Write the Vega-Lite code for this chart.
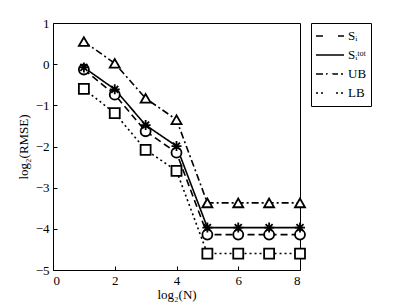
{
  "$schema": "https://vega.github.io/schema/vega-lite/v6.json",
  "width": 247,
  "height": 247,
  "autosize": "none",
  "padding": {"left": 53, "top": 23, "right": 109, "bottom": 37},
  "background": "white",
  "config": {
    "font": "Liberation Serif",
    "view": {"stroke": "black", "strokeWidth": 1},
    "axis": {
      "domain": false,
      "grid": false,
      "tickColor": "black",
      "tickSize": -4,
      "labelColor": "black",
      "labelFont": "Liberation Serif",
      "labelFontSize": 13,
      "titleFont": "Liberation Serif",
      "titleFontSize": 13,
      "titleFontWeight": "normal",
      "titleColor": "black"
    }
  },
  "data": {
    "values": [
      {"x": 1, "y": -0.13, "series": "Sᵢ", "marker": "Sᵢ"},
      {"x": 2, "y": -0.74, "series": "Sᵢ", "marker": "Sᵢ"},
      {"x": 3, "y": -1.63, "series": "Sᵢ", "marker": "Sᵢ"},
      {"x": 4, "y": -2.15, "series": "Sᵢ", "marker": "Sᵢ"},
      {"x": 5, "y": -4.14, "series": "Sᵢ", "marker": "Sᵢ"},
      {"x": 6, "y": -4.14, "series": "Sᵢ", "marker": "Sᵢ"},
      {"x": 7, "y": -4.14, "series": "Sᵢ", "marker": "Sᵢ"},
      {"x": 8, "y": -4.14, "series": "Sᵢ", "marker": "Sᵢ"},
      {"x": 1, "y": -0.08, "series": "Sᵢᵗᵒᵗ", "marker": "Sᵢᵗᵒᵗ"},
      {"x": 2, "y": -0.61, "series": "Sᵢᵗᵒᵗ", "marker": "Sᵢᵗᵒᵗ"},
      {"x": 3, "y": -1.48, "series": "Sᵢᵗᵒᵗ", "marker": "Sᵢᵗᵒᵗ"},
      {"x": 4, "y": -1.99, "series": "Sᵢᵗᵒᵗ", "marker": "Sᵢᵗᵒᵗ"},
      {"x": 5, "y": -3.97, "series": "Sᵢᵗᵒᵗ", "marker": "Sᵢᵗᵒᵗ"},
      {"x": 6, "y": -3.97, "series": "Sᵢᵗᵒᵗ", "marker": "Sᵢᵗᵒᵗ"},
      {"x": 7, "y": -3.97, "series": "Sᵢᵗᵒᵗ", "marker": "Sᵢᵗᵒᵗ"},
      {"x": 8, "y": -3.97, "series": "Sᵢᵗᵒᵗ", "marker": "Sᵢᵗᵒᵗ"},
      {"x": 1, "y": 0.55, "series": "UB", "marker": "UB"},
      {"x": 2, "y": 0.02, "series": "UB", "marker": "UB"},
      {"x": 3, "y": -0.83, "series": "UB", "marker": "UB"},
      {"x": 4, "y": -1.35, "series": "UB", "marker": "UB"},
      {"x": 5, "y": -3.37, "series": "UB", "marker": "UB"},
      {"x": 6, "y": -3.37, "series": "UB", "marker": "UB"},
      {"x": 7, "y": -3.37, "series": "UB", "marker": "UB"},
      {"x": 8, "y": -3.37, "series": "UB", "marker": "UB"},
      {"x": 1, "y": -0.6, "series": "LB", "marker": "LB"},
      {"x": 2, "y": -1.19, "series": "LB", "marker": "LB"},
      {"x": 3, "y": -2.08, "series": "LB", "marker": "LB"},
      {"x": 4, "y": -2.59, "series": "LB", "marker": "LB"},
      {"x": 5, "y": -4.6, "series": "LB", "marker": "LB"},
      {"x": 6, "y": -4.6, "series": "LB", "marker": "LB"},
      {"x": 7, "y": -4.6, "series": "LB", "marker": "LB"},
      {"x": 8, "y": -4.6, "series": "LB", "marker": "LB"}
    ]
  },
  "layer": [
    {
      "mark": {"type": "line", "color": "black", "strokeWidth": 1.6},
      "encoding": {
        "x": {"field": "x", "type": "quantitative", "scale": {"domain": [0, 8], "nice": false}, "axis": {"values": [0, 2, 4, 6, 8], "title": "log₂(N)", "titlePadding": 1, "labelPadding": 8}},
        "y": {"field": "y", "type": "quantitative", "scale": {"domain": [-5, 1], "nice": false}, "axis": {"values": [-5, -4, -3, -2, -1, 0, 1], "title": "log₂(RMSE)", "titlePadding": 5, "labelPadding": 8}},
        "strokeDash": {
          "field": "series",
          "type": "nominal",
          "sort": ["Sᵢ", "Sᵢᵗᵒᵗ", "UB", "LB"],
          "scale": {"range": [[7, 4], [1, 0], [7, 3, 2, 3], [2, 3]]},
          "legend": {
            "orient": "none",
            "legendX": 258,
            "legendY": 0,
            "zindex": 1,
            "title": null,
            "symbolType": "stroke",
            "symbolSize": 784,
            "symbolStrokeWidth": 1.6,
            "symbolStrokeColor": "black",
            "clipHeight": 18,
            "rowPadding": 1,
            "labelOffset": 3,
            "labelFont": "Liberation Serif",
            "labelFontSize": 13,
            "labelColor": "black",
            "strokeColor": "black",
            "padding": 4
          }
        }
      }
    },
    {
      "mark": {"type": "point", "filled": false, "fill": "white", "color": "black", "strokeWidth": 1.8, "opacity": 1},
      "encoding": {
        "x": {"field": "x", "type": "quantitative"},
        "y": {"field": "y", "type": "quantitative"},
        "shape": {
          "field": "marker",
          "type": "nominal",
          "sort": ["Sᵢ", "Sᵢᵗᵒᵗ", "UB", "LB"],
          "scale": {"range": ["circle", "M-1,0L1,0M0,-1L0,1M-0.7,-0.7L0.7,0.7M-0.7,0.7L0.7,-0.7", "triangle-up", "square"]},
          "legend": {
            "orient": "none",
            "legendX": 258,
            "legendY": 0,
            "zindex": 2,
            "title": null,
            "symbolSize": 90,
            "symbolOffset": 9,
            "symbolFillColor": "white",
            "symbolStrokeColor": "black",
            "symbolStrokeWidth": 1.8,
            "symbolOpacity": 1,
            "clipHeight": 18,
            "rowPadding": 1,
            "labelExpr": "''",
            "padding": 4
          }
        },
        "size": {"value": 100}
      }
    }
  ]
}
